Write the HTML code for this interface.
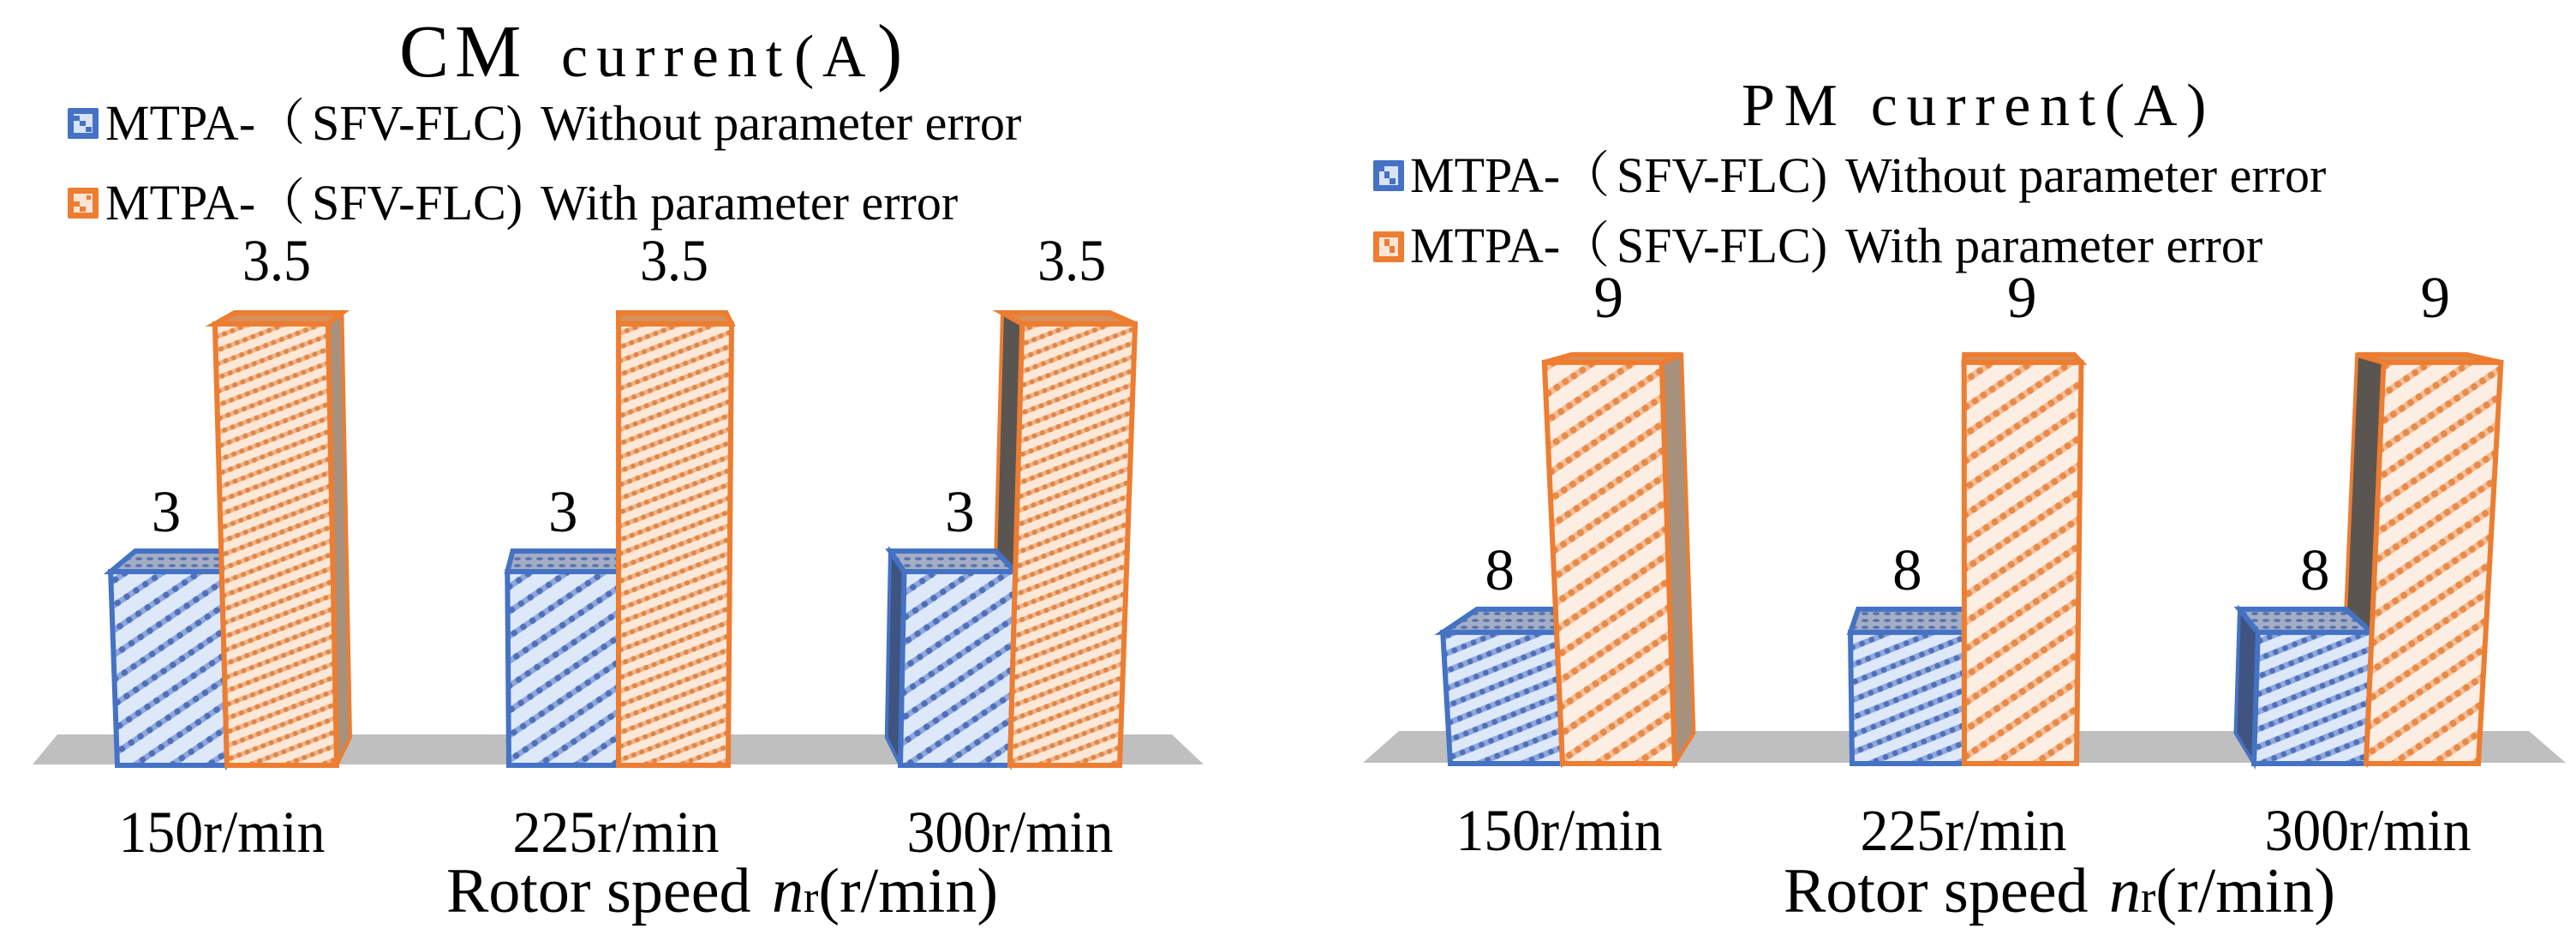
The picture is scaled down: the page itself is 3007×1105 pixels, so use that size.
<!DOCTYPE html>
<html lang="en">
<head>
<meta charset="utf-8">
<title>CM and PM current charts</title>
<style>
html,body{margin:0;padding:0;background:#fff;width:3007px;height:1105px;overflow:hidden}
svg{display:block}
text{font-family:"Liberation Serif","Noto Serif CJK SC",serif;fill:#000}
</style>
</head>
<body>
<svg id="figure" xmlns="http://www.w3.org/2000/svg" width="3007" height="1105" viewBox="0 0 3007 1105">
<defs>
<pattern id="hatch-blue-l" patternUnits="userSpaceOnUse" width="13" height="24" patternTransform="rotate(-34)"><rect width="13" height="24" fill="#dde8f9"/><rect y="8.5" width="13" height="7" fill="#8fa8de"/><circle cx="6.5" cy="12" r="3.8" fill="#4f6fb8"/></pattern>
<pattern id="hatch-orange-l" patternUnits="userSpaceOnUse" width="10" height="15" patternTransform="rotate(-21)"><rect width="10" height="15" fill="#fde8d8"/><rect y="4.8" width="10" height="5.4" fill="#f0b48a"/><circle cx="5" cy="7.5" r="3" fill="#e08645"/></pattern>
<pattern id="hatch-blue-r" patternUnits="userSpaceOnUse" width="12" height="19" patternTransform="rotate(-22)"><rect width="12" height="19" fill="#dde8f9"/><rect y="6" width="12" height="7" fill="#8fa8de"/><circle cx="6" cy="9.5" r="3.4" fill="#4f6fb8"/></pattern>
<pattern id="hatch-orange-r" patternUnits="userSpaceOnUse" width="12" height="26" patternTransform="rotate(-34)"><rect width="12" height="26" fill="#fdeee4"/><rect y="9" width="12" height="8" fill="#f5bf99"/><circle cx="6" cy="13" r="4" fill="#e88a48"/></pattern>
<pattern id="dots-blue-top" patternUnits="userSpaceOnUse" width="13" height="8"><rect width="13" height="8" fill="#a3adc4"/><ellipse cx="6" cy="4" rx="4" ry="1.8" fill="#5570ad"/></pattern>
</defs>

<text x="466" y="89" font-size="87" letter-spacing="7">CM<tspan x="655" font-size="70" letter-spacing="10">current</tspan><tspan x="927" font-size="70">(</tspan><tspan x="960" font-size="70">A</tspan><tspan x="1024" font-size="88">)</tspan></text>

<g>
<g>
<rect x="79" y="126" width="36" height="36" rx="2" fill="#4472c4"/>
<rect x="86" y="133" width="22" height="22" fill="#dae3f3"/>
<path d="M86 135h7v6h-7zM93 141h7v6h-7zM100 148h7v6h-7z" fill="#4472c4"/>
<text x="123" y="163" font-size="58">MTPA-（<tspan x="364">SFV-FLC)</tspan><tspan x="631">Without parameter error</tspan></text>
</g>
<g>
<rect x="79" y="219" width="36" height="36" rx="2" fill="#ed7d31"/>
<rect x="86" y="226" width="22" height="22" fill="#fbe5d6"/>
<path d="M86 235h7v6h-7zM93 241h7v6h-7zM101 228h5v5h-5z" fill="#ed7d31"/>
<text x="123" y="256" font-size="58">MTPA-（<tspan x="364">SFV-FLC)</tspan><tspan x="631">With parameter error</tspan></text>
</g>
</g>
<g id="cm-chart"></g>
<text x="521" y="1064" font-size="74">Rotor speed <tspan dx="6" font-style="italic">n</tspan><tspan font-size="52">r</tspan>(r/min)</text>

<text x="2033" y="146" font-size="70" letter-spacing="10.7">PM current(A)</text>

<g>
<g>
<rect x="1603" y="187" width="36" height="36" rx="2" fill="#4472c4"/>
<rect x="1610" y="194" width="22" height="22" fill="#dae3f3"/>
<path d="M1610 194h6v6h-6zM1616 200h6v8h-6zM1622 208h7v7h-7z" fill="#4472c4"/>
<text x="1646" y="224" font-size="58">MTPA-（<tspan x="1887">SFV-FLC)</tspan><tspan x="2154">Without parameter error</tspan></text>
</g>
<g>
<rect x="1603" y="270" width="36" height="36" rx="2" fill="#ed7d31"/>
<rect x="1610" y="277" width="22" height="22" fill="#fbe5d6"/>
<path d="M1616 279h6v8h-6zM1622 287h6v8h-6z" fill="#ed7d31"/>
<text x="1646" y="306" font-size="58">MTPA-（<tspan x="1887">SFV-FLC)</tspan><tspan x="2154">With parameter error</tspan></text>
</g>
</g>
<g id="pm-chart"></g>
<text x="2082" y="1064" font-size="74">Rotor speed <tspan dx="6" font-style="italic">n</tspan><tspan font-size="52">r</tspan>(r/min)</text>
</svg>

<script>
const categories = ['150r/min', '225r/min', '300r/min'];
const cmWithoutError = [3, 3, 3];
const cmWithError = [3.5, 3.5, 3.5];
const pmWithoutError = [8, 8, 8];
const pmWithError = [9, 9, 9];

const NS = 'http://www.w3.org/2000/svg';

function makePolygon(parent, pts, fill, stroke, sw) {
  const p = document.createElementNS(NS, 'polygon');
  p.setAttribute('points', pts.map(q => q[0].toFixed(1) + ',' + q[1].toFixed(1)).join(' '));
  p.setAttribute('fill', fill);
  if (stroke) {
    p.setAttribute('stroke', stroke);
    p.setAttribute('stroke-width', sw);
    p.setAttribute('stroke-linejoin', 'miter');
  }
  parent.appendChild(p);
  return p;
}

function makeText(parent, x, y, size, str, len) {
  const t = document.createElementNS(NS, 'text');
  t.setAttribute('x', x.toFixed(1));
  t.setAttribute('y', y.toFixed(1));
  t.setAttribute('font-size', size);
  t.setAttribute('text-anchor', 'middle');
  if (len) {
    t.setAttribute('textLength', len);
    t.setAttribute('lengthAdjust', 'spacingAndGlyphs');
  }
  t.textContent = str;
  parent.appendChild(t);
  return t;
}

function drawChart(root, cfg, seriesA, seriesB) {
  /* axis functions */
  const yAxis = v => cfg.baseY - (v - cfg.baseValue) * cfg.pxPerUnit;
  const xAxis = (i, s) => cfg.x0 + i * cfg.step + s * cfg.barW;
  const tickAxis = i => cfg.tick0 + i * cfg.tickStep;
  /* perspective functions */
  const lean = (bx, h) => bx + (bx - cfg.vx) * cfg.k * h;
  const backX = fx => fx + (cfg.vx - fx) * cfg.dx;
  const backY = fy => fy - (fy - cfg.vy) * cfg.dy;

  const floor = makePolygon(root, cfg.floor, '#bfbfbf');
  
  

  function geom(i, s, v) {
    const bl = xAxis(i, s), br = xAxis(i, s + 1), top = yAxis(v), h = cfg.baseY - top;
    const tl = lean(bl, h), tr = lean(br, h);
    return { bl, br, top, h, tl, tr, btl: backX(tl), btr: backX(tr), bty: backY(top),
             bbl: backX(bl), bbr: backX(br), bby: backY(cfg.baseY) };
  }

  function drawBack(g, i, seriesName, c) {
    const group = document.createElementNS(NS, 'g');
    
    
    root.appendChild(group);
    if (g.bl > cfg.vx + 40) {
      const left = makePolygon(group, [[g.btl, g.bty], [g.tl, g.top], [g.bl, cfg.baseY], [g.bbl, g.bby]], c.leftSide, c.stroke, 4);
      
      
    }
    if (g.br < cfg.vx - 40) {
      const right = makePolygon(group, [[g.tr, g.top], [g.btr, g.bty], [g.bbr, g.bby], [g.br, cfg.baseY]], c.rightSide, c.stroke, 4);
      
      
    }
    const topFace = makePolygon(group, [[g.tl, g.top], [g.tr, g.top], [g.btr, g.bty], [g.btl, g.bty]], c.top, c.stroke, cfg.sw);
    
    
  }

  function drawFront(g, i, seriesName, c) {
    const front = makePolygon(root, [[g.tl, g.top], [g.tr, g.top], [g.br, cfg.baseY], [g.bl, cfg.baseY]], c.front, c.stroke, cfg.sw);
    
    
  }

  const blue = { front: 'url(#hatch-blue-' + cfg.tag + ')', top: 'url(#dots-blue-top)', leftSide: '#3f5480', rightSide: '#6f88b8', stroke: '#4472c4' };
  const orange = { front: 'url(#hatch-orange-' + cfg.tag + ')', top: '#d98f58', leftSide: '#5a5550', rightSide: '#a8917c', stroke: '#ed7d31' };

  categories.forEach(function (cat, i) {
    const a = geom(i, 0, seriesA[i]);
    const b = geom(i, 1, seriesB[i]);
    drawBack(b, i, 'with-error', orange);
    drawBack(a, i, 'without-error', blue);
    drawFront(a, i, 'without-error', blue);
    drawFront(b, i, 'with-error', orange);

    const la = makeText(root, (a.tl + a.tr) / 2, a.top - cfg.labelGapA, 69, String(seriesA[i]));
    
    

    const mid = (b.tl + b.tr) / 2;
    const lb = makeText(root, mid + (cfg.vx - mid) * 0.015, b.top - cfg.labelGapB, 69, String(seriesB[i]), String(seriesB[i]).length > 1 ? 80 : null);
    
    

    const tick = makeText(root, tickAxis(i), cfg.tickY, 69, cat, 241);
    
    
  });
}

drawChart(document.getElementById('cm-chart'), {
  tag: 'l', baseY: 893, baseValue: 2.609, pxPerUnit: 578,
  x0: 137, step: 457, barW: 128, vx: 720, k: 6.0e-5,
  dx: 0.049, dy: 0.038, vy: 35, sw: 6,
  labelGapA: 47, labelGapB: 51, tickY: 994, tick0: 259, tickStep: 460,
  floor: [[67, 857], [1368, 857], [1405, 892], [38, 892]]
}, cmWithoutError, cmWithError);

drawChart(document.getElementById('pm-chart'), {
  tag: 'r', baseY: 891, baseValue: 7.514, pxPerUnit: 315,
  x0: 1693, step: 469, barW: 131, vx: 2300, k: 9.5e-5,
  dx: 0.065, dy: 0.057, vy: 264, sw: 6,
  labelGapA: 50, labelGapB: 53, tickY: 992, tick0: 1820, tickStep: 472,
  floor: [[1633, 853], [2952, 853], [2995, 890], [1591, 890]]
}, pmWithoutError, pmWithError);
</script>
</body>
</html>
